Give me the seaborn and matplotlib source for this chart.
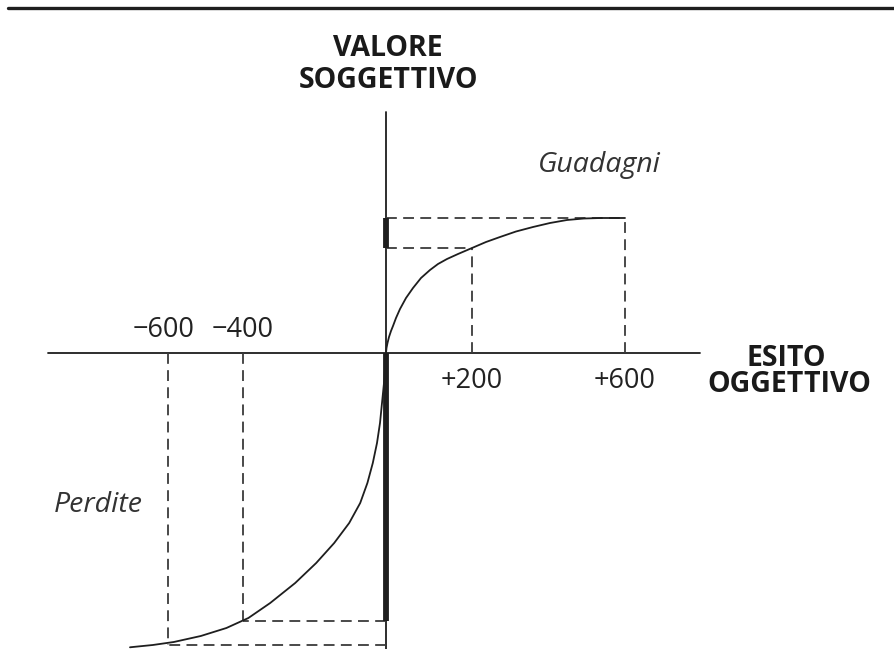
import matplotlib
matplotlib.use("Agg")
import matplotlib.pyplot as plt
import seaborn as sns

# Curva del valore (coordinate schematiche, origine all'incrocio degli assi)
gain_x = [0, 0.5, 1.5, 3, 5, 7, 10, 14, 20, 27, 35, 44, 52, 61, 72, 86, 100, 114, 130, 147, 164, 181, 198, 215, 239]
gain_y = [0, 5, 10, 16, 22, 27, 35, 44, 55, 65, 75, 83, 89, 94, 99, 105, 111, 116, 121.5, 126, 130, 133, 134.5, 135, 135]
loss_x = [0, -1.5, -4, -6, -9, -13.2, -18.6, -25.8, -36.8, -51.8, -69.8, -90.8, -115.8, -137.6, -159.6, -185.2, -212.2, -233.2, -253.2, -256]
loss_y = [0, -25, -50, -70, -90, -110, -130, -150, -170, -190, -210, -230, -250, -265, -275, -283, -289, -292, -294, -294.3]

# Riferimenti tratteggiati
gain_ticks = [86, 239]
gain_vals = [105, 135]
gain_labels = ["+200", "+600"]
loss_ticks = [-143, -218]
loss_vals = [-268, -292]
loss_labels = ["\u2212400", "\u2212600"]

sns.set_style("white")
plt.rcParams["font.family"] = ["Open Sans", "DejaVu Sans"]

fig = plt.figure(figsize=(8.94, 6.49), dpi=100)
ax = fig.add_axes([0, 0, 1, 1])
ax.set_xlim(-386, 508)
ax.set_ylim(-296, 353)
ax.axis("off")

ink = "#1e1e1e"
dash = dict(color="#3a3a3a", lw=1.3, ls=(0, (6, 3.5)))

# linea in alto
ax.plot([-378, 508], [345, 345], color=ink, lw=2.4)

# assi
ax.plot([0, 0], [-296, 241], color=ink, lw=1.3)
ax.plot([-338, 314], [0, 0], color=ink, lw=1.3)

# tratteggi
for x, y in zip(gain_ticks, gain_vals):
    ax.plot([x, x], [0, y], **dash)
    ax.plot([0, x], [y, y], **dash)
for x, y in zip(loss_ticks, loss_vals):
    ax.plot([x, x], [0, y], **dash)
    ax.plot([0, x], [y, y], **dash)

# curva
sns.lineplot(x=gain_x, y=gain_y, sort=False, estimator=None, color=ink, lw=1.3, ax=ax)
sns.lineplot(x=loss_x, y=loss_y, sort=False, estimator=None, color=ink, lw=1.3, ax=ax)

# segmenti spessi sull'asse verticale
ax.plot([0, 0], [gain_vals[0], gain_vals[1]], color=ink, lw=4.2, solid_capstyle="butt")
ax.plot([0, 0], [0, loss_vals[0]], color=ink, lw=4.2, solid_capstyle="butt")

# etichette dei valori
for x, lab in zip(gain_ticks, gain_labels):
    ax.text(x, -28, lab, ha="center", va="center", fontsize=19.5, color="#222222")
for x, lab in zip(loss_ticks, loss_labels):
    ax.text(x - 4 if x < -200 else x, 23, lab, ha="center", va="center",
            fontsize=19.5, color="#222222")

# titoli degli assi
bold = dict(ha="center", va="center", fontsize=20.5, fontweight="bold", color="#1a1a1a")
ax.text(2, 305, "VALORE", **bold)
ax.text(2, 272, "SOGGETTIVO", **bold)
ax.text(400, -5, "ESITO", **bold)
ax.text(403, -32, "OGGETTIVO", **bold)

ital = dict(ha="center", va="center", fontsize=20.5, style="italic", color="#333333")
ax.text(213, 188, "Guadagni", **ital)
ax.text(-288, -152, "Perdite", **ital)

fig.savefig("out.png", dpi=100)
